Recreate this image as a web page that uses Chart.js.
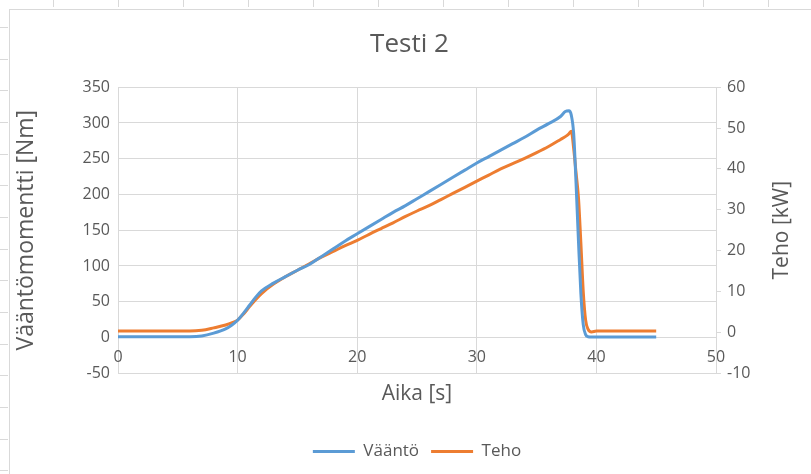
<!DOCTYPE html>
<html lang="fi">
<head>
    <meta charset="UTF-8">
    <title>Testi 2</title>
    <script src="https://cdn.jsdelivr.net/npm/chart.js"></script>
    <style>
        body { margin: 0; background: #fff; }
        #wrap { width: 811px; height: 474px; }
    </style>
</head>
<body>
    <div id="wrap"><canvas id="myChart" width="811" height="474"></canvas></div>

    <script>
        // Time [s]
        const aika = [0, 1, 2, 3, 4, 5, 6, 7, 8, 9, 9.5, 10, 10.5, 11, 11.5, 12, 13, 14, 15, 16,
            17, 18, 19, 20, 21, 22, 23, 24, 25, 26, 27, 28, 29, 30, 31, 32, 33, 34, 35, 36, 37,
            37.4, 37.7, 37.9, 38.1, 38.3, 38.5, 38.7, 38.9, 39.1, 39.3, 39.6, 40, 41, 42, 43, 44, 45];
        // Torque [Nm]
        const vaanto = [1, 1, 1, 1, 1, 1, 1, 2, 6, 12, 17, 24, 34, 45, 56, 65, 76, 85, 94, 102,
            113, 124, 135, 145, 155, 165, 175, 184, 194, 204, 214, 224, 234, 244, 253, 262, 271, 280, 290, 299, 309,
            316, 317, 311, 285, 215, 135, 62, 18, 4, 1, 0.5, 0.5, 0.5, 0.5, 0.5, 0.5, 0.5];
        // Power [kW]
        const teho = [0.3, 0.3, 0.3, 0.3, 0.3, 0.3, 0.3, 0.5, 1.1, 1.8, 2.3, 3.0, 4.5, 6.3, 8.0, 9.5, 11.8, 13.6, 15.2, 16.8,
            18.4, 19.8, 21.2, 22.5, 24.0, 25.4, 26.8, 28.3, 29.7, 31.0, 32.5, 34.0, 35.5, 37.0, 38.5, 40.0, 41.3, 42.6, 44.0, 45.5, 47.2,
            47.9, 48.6, 49.2, 45, 39, 33, 22, 10, 3, 0.8, 0.1, 0.3, 0.3, 0.3, 0.3, 0.3, 0.3];

        const xTicks = [0, 10, 20, 30, 40, 50];
        const leftTicks = [-50, 0, 50, 100, 150, 200, 250, 300, 350];
        const rightTicks = [-10, 0, 10, 20, 30, 40, 50, 60];

        const textColor = '#595959';
        const gridColor = '#d9d9d9';
        const fontFamily = '"Open Sans", sans-serif';

        // sheet frame behind the chart
        const sheetFrame = {
            id: 'sheetFrame',
            beforeDraw(chart) {
                const ctx = chart.ctx;
                ctx.save();
                ctx.fillStyle = '#fff';
                ctx.fillRect(0, 0, chart.width, chart.height);
                ctx.strokeStyle = gridColor;
                ctx.lineWidth = 1;
                ctx.beginPath();
                ctx.moveTo(9.5, 10); ctx.lineTo(9.5, chart.height);
                ctx.moveTo(9, 9.5); ctx.lineTo(chart.width, 9.5);
                for (let y = 27; y < chart.height; y += 31.67) {
                    ctx.moveTo(0, Math.round(y) + 0.5); ctx.lineTo(8, Math.round(y) + 0.5);
                }
                for (let x = 53; x < chart.width; x += 65) {
                    ctx.moveTo(Math.round(x) + 0.5, 0); ctx.lineTo(Math.round(x) + 0.5, 7);
                }
                ctx.stroke();
                ctx.restore();
            }
        };

        // right axis title reads bottom-to-top like the left one,
        // legend centred under the plot area
        const rightTitle = {
            id: 'rightTitle',
            afterLayout(chart) {
                const lg = chart.legend;
                const shift = (chart.chartArea.left + chart.chartArea.right) / 2 - (lg.left + lg.right) / 2;
                lg.left += shift;
                lg.right += shift;
            },
            afterDraw(chart) {
                const ctx = chart.ctx;
                const area = chart.chartArea;
                ctx.save();
                ctx.translate(782, (area.top + area.bottom) / 2);
                ctx.rotate(-Math.PI / 2);
                ctx.fillStyle = textColor;
                ctx.font = '21px ' + fontFamily;
                ctx.textAlign = 'center';
                ctx.textBaseline = 'middle';
                ctx.fillText('Teho [kW]', 0, 0);
                ctx.restore();
            }
        };

        const toPoints = (xs, ys) => xs.map((x, i) => ({ x: x, y: ys[i] }));

        const ctx = document.getElementById('myChart').getContext('2d');
        const myChart = new Chart(ctx, {
            type: 'line',
            data: {
                datasets: [{
                    label: 'Vääntö',
                    data: toPoints(aika, vaanto),
                    borderColor: '#5b9bd5',
                    backgroundColor: '#5b9bd5',
                    borderWidth: 3,
                    pointRadius: 0,
                    cubicInterpolationMode: 'monotone',
                    yAxisID: 'y'
                }, {
                    label: 'Teho',
                    data: toPoints(aika, teho),
                    borderColor: '#ed7d31',
                    backgroundColor: '#ed7d31',
                    borderWidth: 3,
                    pointRadius: 0,
                    cubicInterpolationMode: 'monotone',
                    yAxisID: 'y2'
                }]
            },
            options: {
                responsive: false,
                animation: false,
                layout: { padding: { left: 8, right: 0, top: 0, bottom: 4 } },
                plugins: {
                    title: {
                        display: true,
                        text: 'Testi 2',
                        color: textColor,
                        font: { family: fontFamily, size: 26, weight: 'normal', lineHeight: 1.2 },
                        padding: { top: 29, bottom: 27 }
                    },
                    legend: {
                        position: 'bottom',
                        labels: {
                            color: textColor,
                            font: { family: fontFamily, size: 17 },
                            boxWidth: 42,
                            boxHeight: 3,
                            padding: 12,
                            generateLabels(chart) {
                                const items = Chart.defaults.plugins.legend.labels.generateLabels(chart);
                                items.forEach(i => { i.lineWidth = 0; });
                                return items;
                            }
                        }
                    },
                    tooltip: { enabled: false }
                },
                scales: {
                    x: {
                        type: 'linear',
                        position: 'bottom',
                        min: 0,
                        max: 50,
                        afterBuildTicks(s) { s.ticks = xTicks.map(v => ({ value: v })); },
                        ticks: { display: false },
                        grid: { color: gridColor, drawTicks: false },
                        border: { display: false },
                        title: {
                            display: true,
                            text: 'Aika [s]',
                            color: textColor,
                            font: { family: fontFamily, size: 21 },
                            padding: { top: 8, bottom: 24.6 }
                        }
                    },
                    x2: {
                        type: 'linear',
                        position: { y: 0 },
                        min: 0,
                        max: 50,
                        afterBuildTicks(s) { s.ticks = xTicks.map(v => ({ value: v })); },
                        ticks: { color: textColor, font: { family: fontFamily, size: 16 }, padding: 2, maxRotation: 0 },
                        grid: { display: false },
                        border: { display: false }
                    },
                    y: {
                        position: 'left',
                        min: -50,
                        max: 350,
                        afterBuildTicks(s) { s.ticks = leftTicks.map(v => ({ value: v })); },
                        afterFit(s) { s.width = 110; },
                        ticks: { color: textColor, font: { family: fontFamily, size: 16 }, padding: 8 },
                        grid: { color: gridColor, drawTicks: false },
                        border: { display: false },
                        title: {
                            display: true,
                            text: 'Vääntömomentti [Nm]',
                            color: textColor,
                            font: { family: fontFamily, size: 23 },
                            padding: { top: 5, bottom: 4 }
                        }
                    },
                    y2: {
                        position: 'right',
                        min: -10,
                        max: 60,
                        afterBuildTicks(s) { s.ticks = rightTicks.map(v => ({ value: v })); },
                        afterFit(s) { s.width = 95; },
                        ticks: { color: textColor, font: { family: fontFamily, size: 16 }, padding: 6 },
                        grid: { drawOnChartArea: false, color: gridColor, tickLength: 5 },
                        border: { display: true, color: gridColor }
                    }
                }
            },
            plugins: [sheetFrame, rightTitle]
        });
    </script>
</body>
</html>
